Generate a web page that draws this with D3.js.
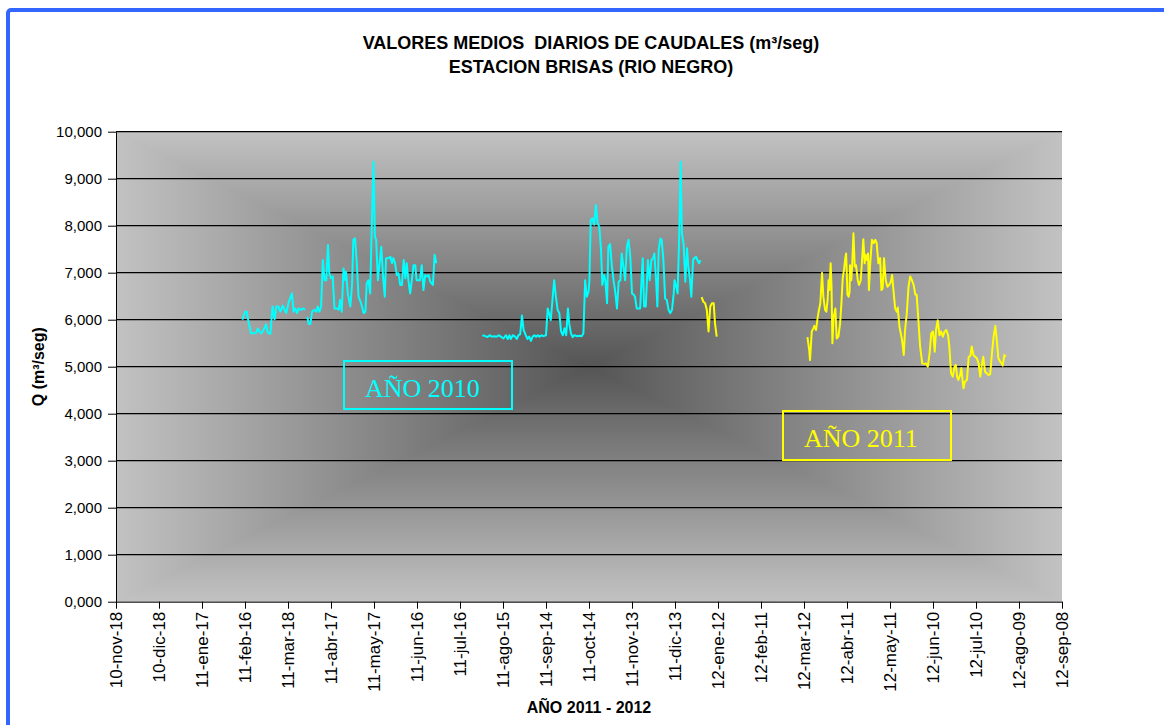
<!DOCTYPE html>
<html>
<head>
<meta charset="utf-8">
<script src="https://cdn.jsdelivr.net/npm/d3@7"></script>
<style>
  body { margin: 0; background: #fff; }
  text { font-family: "Liberation Sans", Arial, sans-serif; }
</style>
</head>
<body>
<svg id="chart" width="1164" height="725"></svg>
<script>
// etiquetas del eje X (tal cual aparecen en la hoja original)
const xTickLabels = [
  "10-nov-18", "10-dic-18", "11-ene-17", "11-feb-16", "11-mar-18", "11-abr-17",
  "11-may-17", "11-jun-16", "11-jul-16", "11-ago-15", "11-sep-14", "11-oct-14",
  "11-nov-13", "11-dic-13", "12-ene-12", "12-feb-11", "12-mar-12", "12-abr-11",
  "12-may-11", "12-jun-10", "12-jul-10", "12-ago-09", "12-sep-08"
];
const yTicks = [0, 1000, 2000, 3000, 4000, 5000, 6000, 7000, 8000, 9000, 10000];
const yTickLabels = ["0,000", "1,000", "2,000", "3,000", "4,000", "5,000",
  "6,000", "7,000", "8,000", "9,000", "10,000"];

// caudales diarios: [posicion en el eje (indice de etiqueta), Q m3/seg]
const tramo2010a = [
  [2.94, 6000], [3.00, 6170], [3.04, 6170], [3.08, 5960], [3.14, 5710], [3.20, 5710],
  [3.26, 5720], [3.30, 5810], [3.34, 5750], [3.38, 5710], [3.43, 5780], [3.49, 5900],
  [3.53, 5720], [3.59, 5700], [3.64, 6280], [3.69, 6010], [3.73, 6280], [3.78, 6280],
  [3.82, 6170], [3.88, 6300], [3.92, 6210], [3.96, 6140], [4.01, 6350], [4.09, 6560],
  [4.13, 6170], [4.17, 6240], [4.21, 6140], [4.25, 6240], [4.30, 6210], [4.36, 6240],
  [4.40, 6210]
];
const tramo2010b = [
  [4.45, 6060], [4.48, 5910], [4.52, 5910], [4.56, 6170], [4.61, 6210], [4.66, 6170],
  [4.69, 6280], [4.73, 6170], [4.77, 6280], [4.81, 7270], [4.85, 6840], [4.89, 6840],
  [4.93, 7590], [4.96, 6990], [5.00, 6880], [5.04, 6920], [5.08, 6240], [5.14, 6240],
  [5.18, 6210], [5.21, 6420], [5.25, 6170], [5.29, 7090], [5.33, 6840], [5.35, 7020],
  [5.39, 6560], [5.45, 6280], [5.49, 6770], [5.52, 7700], [5.56, 7730], [5.60, 7200],
  [5.64, 6490], [5.70, 6350], [5.76, 6140], [5.80, 6170], [5.83, 6770], [5.87, 6840],
  [5.91, 6560], [5.95, 8050], [5.99, 9360], [6.02, 7770], [6.05, 7700], [6.09, 6840],
  [6.13, 7200], [6.17, 7550], [6.21, 6920], [6.25, 6490], [6.28, 7310], [6.34, 7310],
  [6.38, 7340], [6.42, 7200], [6.45, 7310], [6.49, 7200], [6.53, 6950], [6.57, 6990],
  [6.61, 6740], [6.65, 6740], [6.69, 7270], [6.73, 6880], [6.76, 7200], [6.80, 6840],
  [6.84, 6560], [6.88, 6840], [6.92, 7160], [6.96, 7160], [6.99, 6840], [7.07, 6840],
  [7.11, 7160], [7.15, 6630], [7.19, 6950], [7.23, 6920], [7.27, 6950], [7.31, 6810],
  [7.37, 6740], [7.41, 7380], [7.45, 7200]
];
const tramo2010c = [
  [8.52, 5670], [8.59, 5650], [8.64, 5630], [8.69, 5670], [8.74, 5640], [8.80, 5650],
  [8.86, 5640], [8.90, 5670], [8.95, 5640], [9.01, 5600], [9.07, 5670], [9.11, 5590],
  [9.15, 5670], [9.18, 5590], [9.23, 5670], [9.28, 5640], [9.32, 5590], [9.36, 5670],
  [9.40, 5690], [9.44, 6090], [9.48, 5780], [9.53, 5670], [9.57, 5590], [9.61, 5640],
  [9.65, 5550], [9.69, 5640], [9.73, 5670], [9.77, 5640], [9.81, 5670], [9.85, 5640],
  [9.89, 5670], [9.94, 5650], [10.00, 5670], [10.04, 6240], [10.07, 6140], [10.11, 5990],
  [10.15, 6420], [10.19, 6840], [10.23, 6490], [10.27, 6210], [10.31, 6140], [10.35, 5750],
  [10.39, 5670], [10.43, 5820], [10.47, 5670], [10.51, 6240], [10.54, 5920], [10.58, 5710],
  [10.62, 5630], [10.66, 5670], [10.72, 5650], [10.78, 5660], [10.83, 5650], [10.87, 5710],
  [10.91, 6840], [10.95, 6490], [10.99, 6600], [11.01, 6840], [11.04, 8120], [11.08, 8160],
  [11.12, 8020], [11.16, 8440], [11.20, 8050], [11.24, 7980], [11.28, 7480], [11.31, 6740],
  [11.35, 6950], [11.38, 6840], [11.42, 6350], [11.45, 7550], [11.49, 7610], [11.53, 7160],
  [11.57, 6840], [11.61, 6600], [11.65, 6240], [11.69, 6810], [11.73, 6840], [11.76, 7410],
  [11.80, 7130], [11.84, 6840], [11.88, 7550], [11.92, 7700], [11.96, 7340], [12.00, 6560],
  [12.04, 6530], [12.07, 6490], [12.11, 6240], [12.15, 6240], [12.19, 6240], [12.23, 6990],
  [12.25, 7310], [12.28, 6280], [12.32, 6280], [12.37, 7270], [12.41, 6840], [12.45, 7270],
  [12.49, 7310], [12.52, 7410], [12.56, 6840], [12.59, 6280], [12.62, 7480], [12.66, 7730],
  [12.69, 7700], [12.73, 7270], [12.77, 6450], [12.81, 6420], [12.85, 6210], [12.89, 6140],
  [12.93, 6210], [12.97, 6560], [12.99, 6840], [13.03, 6700], [13.06, 6560], [13.10, 7840],
  [13.13, 9360], [13.16, 7840], [13.20, 7620], [13.24, 6810], [13.28, 7520], [13.31, 7130],
  [13.35, 6840], [13.38, 6490], [13.42, 7270], [13.45, 7310], [13.49, 7340], [13.52, 7270],
  [13.56, 7200], [13.59, 7270]
];
const tramo2011a = [
  [13.62, 6480], [13.66, 6380], [13.70, 6350], [13.74, 6210], [13.78, 5750], [13.82, 6280],
  [13.86, 6350], [13.90, 6350], [13.93, 5920], [13.97, 5640]
];
const tramo2011b = [
  [16.08, 5630], [16.12, 5360], [16.14, 5140], [16.18, 5750], [16.22, 5820], [16.24, 5870],
  [16.28, 5780], [16.31, 5990], [16.34, 6170], [16.38, 6350], [16.42, 7000], [16.45, 6490],
  [16.49, 6210], [16.52, 6170], [16.55, 6420], [16.57, 6840], [16.59, 6630], [16.62, 7200],
  [16.64, 6700], [16.66, 5500], [16.69, 6060], [16.73, 6240], [16.76, 5600], [16.80, 5640],
  [16.84, 5920], [16.87, 6350], [16.90, 6880], [16.93, 7060], [16.96, 7310], [16.98, 7410],
  [17.01, 6530], [17.04, 6490], [17.06, 6600], [17.07, 7160], [17.10, 6840], [17.12, 7160],
  [17.15, 7840], [17.18, 7130], [17.21, 7160], [17.25, 6840], [17.28, 6740], [17.32, 6840],
  [17.35, 7270], [17.38, 7710], [17.41, 7200], [17.43, 7380], [17.46, 7270], [17.49, 7410],
  [17.51, 6630], [17.54, 7200], [17.58, 7700], [17.62, 7630], [17.66, 7700], [17.69, 7630],
  [17.73, 7200], [17.77, 7310], [17.80, 6630], [17.83, 6670], [17.86, 7310], [17.90, 6840],
  [17.94, 6700], [17.98, 6740], [18.02, 6810], [18.05, 6950], [18.08, 6630], [18.12, 6240],
  [18.16, 6170], [18.18, 6260], [18.22, 5850], [18.28, 5570], [18.32, 5250], [18.35, 5780],
  [18.39, 6130], [18.43, 6700], [18.47, 6920], [18.51, 6840], [18.55, 6740], [18.59, 6530],
  [18.62, 6530], [18.66, 5990], [18.70, 5430], [18.75, 5070], [18.80, 5060], [18.84, 5070],
  [18.88, 5000], [18.92, 5280], [18.96, 5710], [19.00, 5750], [19.04, 5320], [19.07, 5780],
  [19.11, 5990], [19.15, 5670], [19.19, 5750], [19.23, 5640], [19.27, 5750], [19.31, 5780],
  [19.35, 5670], [19.38, 5430], [19.42, 4860], [19.46, 4790], [19.50, 5000], [19.53, 5040],
  [19.56, 4790], [19.59, 4720], [19.63, 4820], [19.66, 4970], [19.69, 4680], [19.71, 4540],
  [19.74, 4680], [19.79, 4720], [19.83, 5210], [19.87, 5230], [19.90, 5430], [19.94, 5250],
  [19.98, 5210], [20.02, 5180], [20.06, 5070], [20.10, 4790], [20.14, 5070], [20.17, 5210],
  [20.21, 4890], [20.25, 4860], [20.29, 4820], [20.33, 4840], [20.37, 5280], [20.41, 5640],
  [20.45, 5870], [20.49, 5500], [20.52, 5180], [20.56, 5110], [20.60, 5070], [20.62, 5020],
  [20.66, 5250], [20.69, 5210]
];

const svg = d3.select("#chart");

// marco azul de la hoja
svg.append("rect")
  .attr("x", 8).attr("y", 10).attr("width", 1200).attr("height", 800)
  .attr("rx", 3)
  .attr("fill", "#fff").attr("stroke", "#3366ff").attr("stroke-width", 4);

// area de trazado
const plot = { left: 116, right: 1062, top: 131.7, bottom: 601.7 };

const x = d3.scaleLinear().domain([0, xTickLabels.length - 1]).range([plot.left, plot.right]);
const y = d3.scaleLinear().domain([0, 10000]).range([plot.bottom, plot.top]);

// fondo degradado "desde el centro" (rectangular)
const edgeCol = "#c2c2c2", centerCol = "#555555";
const defs = svg.append("defs");
[["gTop", 0, 0, 0, 1], ["gBot", 0, 1, 0, 0], ["gLeft", 0, 0, 1, 0], ["gRight", 1, 0, 0, 0]]
  .forEach(([id, x1, y1, x2, y2]) => {
    const g = defs.append("linearGradient").attr("id", id)
      .attr("x1", x1).attr("y1", y1).attr("x2", x2).attr("y2", y2);
    g.append("stop").attr("offset", 0).attr("stop-color", edgeCol);
    g.append("stop").attr("offset", 1).attr("stop-color", centerCol);
  });

const cx = (plot.left + plot.right) / 2, cy = (plot.top + plot.bottom) / 2;
const L = plot.left, R = plot.right, T = plot.top, B = plot.bottom;
const bg = svg.append("g");
// mitades izquierda/derecha completas, luego triangulos arriba/abajo encima (sin costuras)
[
  ["gLeft", [[L, T], [cx, T], [cx, B], [L, B]]],
  ["gRight", [[cx, T], [R, T], [R, B], [cx, B]]],
  ["gTop", [[L, T], [R, T], [cx, cy]]],
  ["gBot", [[L, B], [R, B], [cx, cy]]]
].forEach(([id, pts]) => {
  bg.append("polygon")
    .attr("points", pts.map(p => p.join(",")).join(" "))
    .attr("fill", `url(#${id})`);
});

// lineas de division
svg.append("g")
  .selectAll("line")
  .data(yTicks.filter(d => d > 0))
  .enter().append("line")
  .attr("x1", plot.left).attr("x2", plot.right)
  .attr("y1", d => y(d)).attr("y2", d => y(d))
  .attr("stroke", "#000").attr("stroke-width", 1.3);

// eje Y
const yAxis = svg.append("g")
  .attr("transform", `translate(${plot.left},0)`)
  .call(d3.axisLeft(y).tickValues(yTicks)
    .tickFormat((d, i) => yTickLabels[i])
    .tickSize(8).tickSizeOuter(0).tickPadding(6));
yAxis.selectAll("text").attr("font-size", 15).attr("fill", "#000");
yAxis.selectAll("line, path").attr("stroke", "#000");

// eje X
const xAxis = svg.append("g")
  .attr("transform", `translate(0,${plot.bottom})`)
  .call(d3.axisBottom(x).tickValues(d3.range(xTickLabels.length))
    .tickFormat(i => xTickLabels[i])
    .tickSize(7).tickSizeOuter(0));
xAxis.selectAll("text")
  .attr("font-size", 17).attr("fill", "#000")
  .attr("transform", "rotate(-90)")
  .attr("text-anchor", "end")
  .attr("x", -10).attr("y", 0).attr("dy", "0.35em");
xAxis.selectAll("line, path").attr("stroke", "#000");

// series
const line = d3.line().x(d => x(d[0])).y(d => y(d[1]));
const series = [
  { data: tramo2010a, color: "#00ffff" },
  { data: tramo2010b, color: "#00ffff" },
  { data: tramo2010c, color: "#00ffff" },
  { data: tramo2011a, color: "#ffff00" },
  { data: tramo2011b, color: "#ffff00" }
];
svg.append("g").selectAll("path")
  .data(series)
  .enter().append("path")
  .attr("d", d => line(d.data))
  .attr("fill", "none")
  .attr("stroke", d => d.color)
  .attr("stroke-width", 2)
  .attr("stroke-linejoin", "round");

// cuadros de texto
const boxes = [
  { label: "AÑO 2010", color: "#00ffff", x: 344, y: 361, w: 168, h: 48 },
  { label: "AÑO 2011", color: "#ffff00", x: 783, y: 411, w: 168, h: 49 }
];
const bx = svg.append("g").selectAll("g").data(boxes).enter().append("g");
bx.append("rect")
  .attr("x", d => d.x).attr("y", d => d.y).attr("width", d => d.w).attr("height", d => d.h)
  .attr("fill", "none").attr("stroke", d => d.color).attr("stroke-width", 2);
bx.append("text")
  .attr("x", d => d.x + 21).attr("y", d => d.y + 36)
  .style("font-family", "'Liberation Serif', 'Times New Roman', serif")
  .attr("font-size", 26).attr("fill", d => d.color)
  .text(d => d.label);

// titulos
const title = svg.append("text")
  .attr("text-anchor", "middle")
  .attr("font-size", 18).attr("font-weight", "bold").attr("fill", "#000")
  .style("white-space", "pre");
title.append("tspan").attr("x", 591).attr("y", 49).text("VALORES MEDIOS  DIARIOS DE CAUDALES (m³/seg)");
title.append("tspan").attr("x", 591).attr("y", 73).text("ESTACION BRISAS (RIO NEGRO)");

svg.append("text")
  .attr("x", (plot.left + plot.right) / 2).attr("y", 713)
  .attr("text-anchor", "middle")
  .attr("font-size", 16).attr("font-weight", "bold")
  .text("AÑO 2011 - 2012");

svg.append("text")
  .attr("transform", `translate(38,${cy}) rotate(-90)`)
  .attr("text-anchor", "middle").attr("dy", "0.35em")
  .attr("font-size", 16).attr("font-weight", "bold")
  .text("Q (m³/seg)");
</script>
</body>
</html>
